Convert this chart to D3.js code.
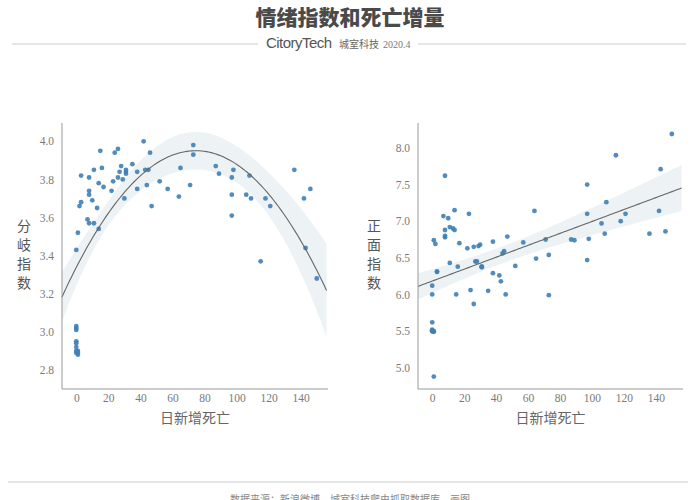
<!DOCTYPE html>
<html><head><meta charset="utf-8">
<script src="https://cdn.jsdelivr.net/npm/d3@7"></script>
<style>body{margin:0;background:#fff}svg{display:block}</style>
</head><body>
<svg id="c" width="700" height="500"></svg>
<script>
// ─── Data ───────────────────────────────────────────────────────────────
const deaths = [0,1,2,3,3,7,8,8,8,8,10,11,11,13,14,14,15,16,17,22,23,24,26,26,27,28,29,30,31,31,31,35,38,38,42,43,44,45,46,47,52,57,64,65,71,73,73,87,89,97,97,97,98,106,108,109,115,118,121,136,142,143,146,150,0,0,0,0,0,0,0,0,1,1,1]
const divergence = [3.43,3.52,3.66,3.68,3.82,3.59,3.57,3.72,3.74,3.81,3.69,3.57,3.85,3.65,3.54,3.78,3.95,3.86,3.76,3.74,3.79,3.94,3.96,3.81,3.84,3.87,3.80,3.70,3.83,3.85,3.84,3.88,3.75,3.84,4.00,3.85,3.77,3.85,3.94,3.66,3.79,3.75,3.71,3.86,3.77,3.98,3.93,3.87,3.83,3.72,3.61,3.81,3.85,3.72,3.82,3.70,3.37,3.70,3.66,3.85,3.70,3.44,3.75,3.28,3.03,3.02,3.01,2.95,2.94,2.92,2.90,2.89,2.90,2.89,2.88]
const positive = [6.12,6.74,6.69,6.31,6.31,7.07,7.62,6.88,6.80,6.78,7.04,6.92,6.43,6.90,7.15,6.88,6.00,6.38,6.70,6.63,7.10,6.06,6.65,5.87,6.45,6.45,6.66,6.68,6.38,6.37,6.38,6.05,6.72,6.29,6.26,6.18,6.56,6.59,6.00,6.79,6.39,6.71,7.14,6.49,6.75,6.54,5.99,6.75,6.74,7.50,7.10,6.47,6.76,6.97,6.83,7.26,7.90,7.00,7.10,6.83,7.14,7.71,6.86,8.19,6.00,5.62,5.51,5.50,5.50,5.50,5.50,5.52,5.49,5.50,4.88]
const leftTicksY  = [2.8,3.0,3.2,3.4,3.6,3.8,4.0]
const rightTicksY = [5.0,5.5,6.0,6.5,7.0,7.5,8.0]
const ticksX = [0,20,40,60,80,100,120,140]

const BLUE = "#3f7fb5", GREY = "#7a7a7a"
const SERIF = "'Liberation Serif','DejaVu Serif',serif"
const CJK = "'Noto Sans CJK SC',sans-serif"
const svg = d3.select("#c")

// ─── Header / footer ────────────────────────────────────────────────────
svg.append("text").attr("x",350).attr("y",25).attr("text-anchor","middle")
  .style("font-family",CJK).style("font-weight",900).style("font-size","21px").attr("fill","#4a4a4a")
  .text("情绪指数和死亡增量")
svg.append("line").attr("x1",12).attr("x2",258).attr("y1",44).attr("y2",44).attr("stroke","#ccc")
svg.append("line").attr("x1",418).attr("x2",686).attr("y1",44).attr("y2",44).attr("stroke","#ccc")
svg.append("text").attr("x",266).attr("y",48).style("font-family","'Liberation Sans',sans-serif")
  .style("font-size","15px").attr("fill","#555").attr("textLength",66).text("CitoryTech")
svg.append("text").attr("x",339).attr("y",48).style("font-family",CJK).style("font-size","10px")
  .attr("fill","#666").text("城室科技")
svg.append("text").attr("x",383).attr("y",48).style("font-family",SERIF).style("font-size","10px")
  .attr("fill","#777").text("2020.4")
svg.append("line").attr("x1",8).attr("x2",688).attr("y1",482).attr("y2",482).attr("stroke","#ccc")
svg.append("text").attr("x",350).attr("y",503).attr("text-anchor","middle").style("font-family",CJK)
  .style("font-size","10px").attr("fill","#888").text("数据来源：新浪微博，城室科技爬虫抓取数据库，画图")

// ─── Regression helpers ─────────────────────────────────────────────────
function solve(A, b) {
  const n = b.length, M = A.map((r,i)=>[...r,b[i]])
  for (let i=0;i<n;i++) {
    let p=i; for (let k=i+1;k<n;k++) if (Math.abs(M[k][i])>Math.abs(M[p][i])) p=k
    ;[M[i],M[p]]=[M[p],M[i]]
    for (let k=0;k<n;k++) if (k!==i) { const f=M[k][i]/M[i][i]; for (let j=i;j<=n;j++) M[k][j]-=f*M[i][j] }
  }
  return M.map((r,i)=>r[n]/r[i])
}
function invert(A) {
  const n=A.length
  return d3.range(n).map(j=>solve(A, d3.range(n).map(i=>i===j?1:0))).map((c,i,arr)=>arr.map(col=>col[i]))
}
function polyFit(xs, ys, order) {
  const feat = x => d3.range(order+1).map(p=>Math.pow(x,p))
  const X = xs.map(feat), m = order+1
  const XtX = d3.range(m).map(i=>d3.range(m).map(j=>d3.sum(X,r=>r[i]*r[j])))
  const Xty = d3.range(m).map(i=>d3.sum(X,(r,k)=>r[i]*ys[k]))
  const beta = solve(XtX, Xty), inv = invert(XtX)
  const pred = x => d3.sum(feat(x),(v,i)=>v*beta[i])
  const s2 = d3.sum(xs,(x,k)=>(ys[k]-pred(x))**2)/(xs.length-m)
  const se = x => { const f=feat(x); return Math.sqrt(s2*d3.sum(f,(a,i)=>d3.sum(f,(b,j)=>a*inv[i][j]*b))) }
  return {pred, se}
}

// ─── Panel ──────────────────────────────────────────────────────────────
function panel(opt) {
  const x = d3.scaleLinear().domain([-8.9,157]).range([opt.left,opt.right])
  const y = d3.scaleLinear().domain(opt.yDom).range([389,123])
  const g = svg.append("g")
  const fit = polyFit(deaths, opt.ys, opt.order)
  const grid = d3.range(-8.9,157.01,1.5)
  g.append("path").datum(grid).attr("fill","#e6edf0").attr("opacity",0.7)
    .attr("d",d3.area().x(d=>x(d)).y0(d=>y(fit.pred(d)-1.99*fit.se(d))).y1(d=>y(fit.pred(d)+1.99*fit.se(d))))
  g.selectAll("circle").data(deaths).join("circle")
    .attr("cx",d=>x(d)).attr("cy",(d,i)=>y(opt.ys[i])).attr("r",2.4).attr("fill",BLUE).attr("opacity",0.9)
  g.append("path").datum(grid).attr("fill","none").attr("stroke","#666").attr("stroke-width",1.1)
    .attr("d",d3.line().x(d=>x(d)).y(d=>y(fit.pred(d))))
  const ax = g.append("g").attr("transform","translate(0,389)")
    .call(d3.axisBottom(x).tickValues(ticksX).tickSize(0).tickPadding(5))
  const ay = g.append("g").attr("transform",`translate(${opt.left},0)`)
    .call(d3.axisLeft(y).tickValues(opt.ticks).tickFormat(d3.format(".1f")).tickSize(0).tickPadding(8))
  for (const a of [ax,ay]) {
    a.select(".domain").attr("stroke","#999")
    a.selectAll("text").style("font-family",SERIF).style("font-size","11.5px").attr("fill",GREY)
  }
  ay.select(".domain").attr("d",`M0,389V123`)
  ax.select(".domain").attr("d",`M${opt.left},0H${opt.right}`)
  g.append("text").attr("x",(opt.left+opt.right)/2).attr("y",423).attr("text-anchor","middle")
    .style("font-family",CJK).style("font-size","14px").attr("fill","#666").text("日新增死亡")
  opt.label.split("").forEach((ch,i)=>g.append("text").attr("x",opt.labelX).attr("y",231+i*19)
    .attr("text-anchor","middle").style("font-family",CJK).style("font-size","14px").attr("fill","#555").text(ch))
}

panel({left:62, right:328, ys:divergence, order:2, yDom:[2.70,4.096], ticks:leftTicksY, label:"分岐指数", labelX:24})
panel({left:418, right:683, ys:positive, order:1, yDom:[4.71,8.34], ticks:rightTicksY, label:"正面指数", labelX:374})
</script>
</body></html>
